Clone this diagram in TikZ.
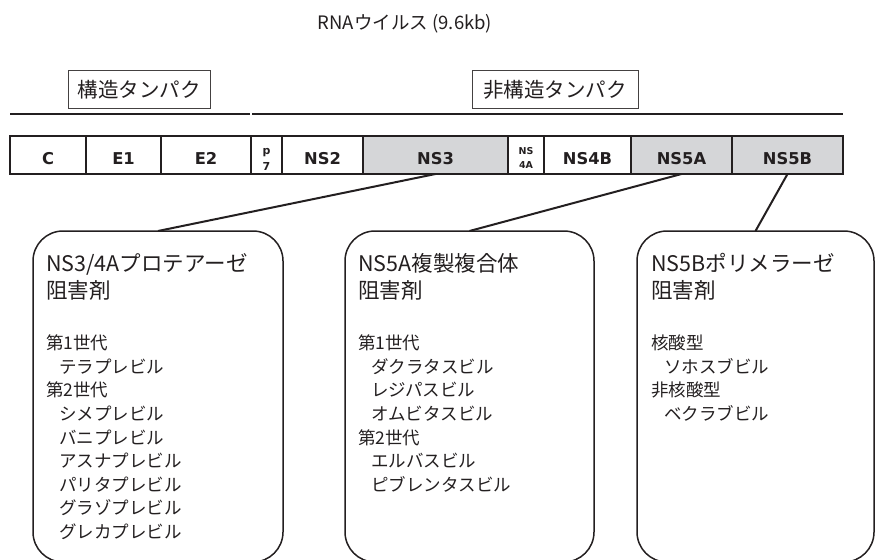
\documentclass[tikz,border=0pt]{standalone}
\usepackage{fontspec}
\setmainfont{Noto Sans CJK JP}
\newfontfamily\segfont{DejaVu Sans}
\definecolor{ink}{HTML}{231F20}
\definecolor{segfill}{HTML}{D5D6D8}
\begin{document}
\begin{tikzpicture}[x=1pt,y=-1pt,
  seg/.style={draw=ink,line width=1.5pt,minimum height=38pt,inner sep=0pt,outer sep=0pt},
  grayseg/.style={seg,fill=segfill},
  seglab/.style={anchor=base,inner sep=0pt,text=ink,font=\segfont\bfseries\fontsize{16.3pt}{18pt}\selectfont},
  smalllab/.style={anchor=base,inner sep=0pt,text=ink,font=\segfont\bfseries\fontsize{9.5pt}{11pt}\selectfont},
  catbox/.style={draw=ink!85,line width=1pt,inner sep=0pt,minimum height=38pt,text=ink,font=\fontsize{20.5pt}{24pt}\selectfont},
  drugbox/.style={draw=ink,line width=1.5pt,rounded corners=30pt,minimum height=331pt,inner sep=0pt,outer sep=0pt},
  headtxt/.style={anchor=base west,inner sep=0pt,text=ink,font=\fontsize{21.5pt}{27pt}\selectfont},
  bodytxt/.style={anchor=base west,inner sep=0pt,text=ink,font=\fontsize{17.5pt}{23.6pt}\selectfont},
  conn/.style={draw=ink,line width=2pt}]
\useasboundingbox (0,0) rectangle (877,559);
\clip (0,0) rectangle (877,559);

% title
\node[inner sep=0pt,text=ink,font=\fontsize{18.5pt}{22pt}\selectfont] (title) at (405,24) {RNAウイルス (9.6kb)};

% category boxes and lines
\node[catbox,minimum width=142pt] (struct) at (139,90) {構造タンパク};
\node[catbox,minimum width=166pt] (nonstruct) at (555,90) {非構造タンパク};
\coordinate (l1a) at (10,114);
\coordinate (l1b) at (250,114);
\coordinate (l2a) at (252,114);
\coordinate (l2b) at (843,114);
\draw[conn] (l1a) -- (l1b);
\draw[conn] (l2a) -- (l2b);

% genome segments
\node[seg,minimum width=76pt] (c) at (48,155) {};
\node[seg,minimum width=75pt] (e1) at (123.5,155) {};
\node[seg,minimum width=90pt] (e2) at (206,155) {};
\node[seg,minimum width=31pt] (p7) at (266.5,155) {};
\node[seg,minimum width=81pt] (ns2) at (322.5,155) {};
\node[grayseg,minimum width=145pt] (ns3) at (435.5,155) {};
\node[seg,minimum width=36pt] (ns4a) at (526,155) {};
\node[seg,minimum width=87pt] (ns4b) at (587.5,155) {};
\node[grayseg,minimum width=101pt] (ns5a) at (681.5,155) {};
\node[grayseg,minimum width=111pt] (ns5b) at (787.5,155) {};

\node[seglab] (cL) at (48,164) {C};
\node[seglab] (e1L) at (123.5,164) {E1};
\node[seglab] (e2L) at (206,164) {E2};
\node[smalllab,font=\segfont\bfseries\fontsize{11pt}{12pt}\selectfont] (p7La) at (266.5,154) {p};
\node[smalllab,font=\segfont\bfseries\fontsize{11pt}{12pt}\selectfont] (p7Lb) at (266.5,170.5) {7};
\node[seglab] (ns2L) at (322.5,164) {NS2};
\node[seglab] (ns3L) at (435.5,164) {NS3};
\node[smalllab] (ns4aLa) at (526,154) {NS};
\node[smalllab] (ns4aLb) at (526,168) {4A};
\node[seglab] (ns4bL) at (587.5,164) {NS4B};
\node[seglab] (ns5aL) at (681.5,164) {NS5A};
\node[seglab] (ns5bL) at (787.5,164) {NS5B};

% drug boxes
\node[drugbox,minimum width=250pt] (b1) at (158,396.5) {};
\node[drugbox,minimum width=249pt] (b2) at (469.5,396.5) {};
\node[drugbox,minimum width=237pt] (b3) at (755.5,396.5) {};

\draw[conn] (ns3.south) -- (b1.north);
\draw[conn] (ns5a.south) -- (b2.north);
\draw[conn] (ns5b.south) -- (b3.north);

% box 1 text
\node[headtxt] (h1a) at (46,271) {NS3/4Aプロテアーゼ};
\node[headtxt] (h1b) at (46,298) {阻害剤};
\foreach \ind/\txt [count=\i from 0] in {0/第1世代,13/テラプレビル,0/第2世代,13/シメプレビル,13/バニプレビル,13/アスナプレビル,13/パリタプレビル,13/グラゾプレビル,13/グレカプレビル}
  \node[bodytxt] (t1\i) at (46+\ind,349.7+23.6*\i) {\txt};

% box 2 text
\node[headtxt] (h2a) at (358,271) {NS5A複製複合体};
\node[headtxt] (h2b) at (358,298) {阻害剤};
\foreach \ind/\txt [count=\i from 0] in {0/第1世代,13/ダクラタスビル,13/レジパスビル,13/オムビタスビル,0/第2世代,13/エルバスビル,13/ピブレンタスビル}
  \node[bodytxt] (t2\i) at (358+\ind,349.7+23.6*\i) {\txt};

% box 3 text
\node[headtxt] (h3a) at (651,271) {NS5Bポリメラーゼ};
\node[headtxt] (h3b) at (651,298) {阻害剤};
\foreach \ind/\txt [count=\i from 0] in {0/核酸型,13/ソホスブビル,0/非核酸型,13/ベクラブビル}
  \node[bodytxt] (t3\i) at (651+\ind,349.7+23.6*\i) {\txt};
\end{tikzpicture}
\end{document}
